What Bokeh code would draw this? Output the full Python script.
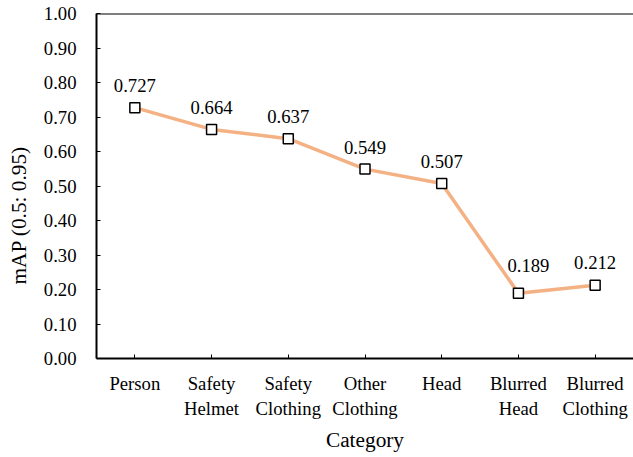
from bokeh.plotting import figure
from bokeh.models import ColumnDataSource, FixedTicker, NumeralTickFormatter, Span, Range1d, FactorRange
from bokeh.core.properties import value
from bokeh.embed import file_html
from bokeh.resources import INLINE

categories = ["Person", "Safety\nHelmet", "Safety\nClothing", "Other\nClothing", "Head", "Blurred\nHead", "Blurred\nClothing"]
map_values = [0.727, 0.664, 0.637, 0.549, 0.507, 0.189, 0.212]
y_ticks = [0.0, 0.1, 0.2, 0.3, 0.4, 0.5, 0.6, 0.7, 0.8, 0.9, 1.0]
y_title = "mAP (0.5: 0.95)"
x_title = "Category"

# label nudges (screen px), style only
label_dx = [0, 0, 0, 0, 0, 10, 0]
label_dy = [-22, -22, -22, -22, -22, -28, -23]

FONT = "Liberation Serif"
FS = "18.7px"
FS_TITLE = "21.3px"

src = ColumnDataSource(dict(x=categories, y=map_values))

p = figure(x_range=FactorRange(*categories, range_padding=0), y_range=Range1d(0, 1),
           width=633, height=457, output_backend="svg", toolbar_location=None,
           min_border_left=96, min_border_right=0, min_border_top=13, min_border_bottom=99)
p.x_range.factor_padding = 0

p.outline_line_color = None
p.grid.visible = False
p.background_fill_color = "white"
p.border_fill_color = "white"

p.add_layout(Span(location=1.0, dimension="width", line_color="black", line_width=2))

p.line("x", "y", source=src, line_color="#F4B183", line_width=3.5)
p.scatter("x", "y", source=src, marker="square", size=10, fill_color="white",
          line_color="black", line_width=1.5)

for i in range(len(categories)):
    p.text(x=[categories[i]], y=[map_values[i]], text=["%.3f" % map_values[i]],
           text_align="center", text_baseline="alphabetic",
           x_offset=label_dx[i], y_offset=label_dy[i],
           text_font=value(FONT), text_font_size=FS, text_color="black")

for ax in (p.xaxis[0], p.yaxis[0]):
    ax.axis_line_color = "black"
    ax.axis_line_width = 2
    ax.major_tick_in = 4
    ax.major_tick_out = 0
    ax.major_tick_line_color = "black"
    ax.major_tick_line_width = 1
    ax.minor_tick_line_color = None
    ax.major_label_text_font = FONT
    ax.major_label_text_font_size = FS
    ax.major_label_text_color = "black"
    ax.axis_label_text_font = FONT
    ax.axis_label_text_font_size = FS_TITLE
    ax.axis_label_text_font_style = "normal"
    ax.axis_label_text_color = "black"

p.yaxis.ticker = FixedTicker(ticks=y_ticks)
p.yaxis.formatter = NumeralTickFormatter(format="0.00")
p.yaxis.major_label_standoff = 20
# trailing non-breaking spaces shift the visible title down along the axis, as in the reference
p.yaxis.axis_label = y_title + "\u00a0" * 11
p.yaxis.axis_label_standoff = 10

p.xaxis.major_label_standoff = 14
p.xaxis.axis_label = x_title
p.xaxis.axis_label_standoff = 6

open("out.html", "w").write(file_html(p, INLINE))
